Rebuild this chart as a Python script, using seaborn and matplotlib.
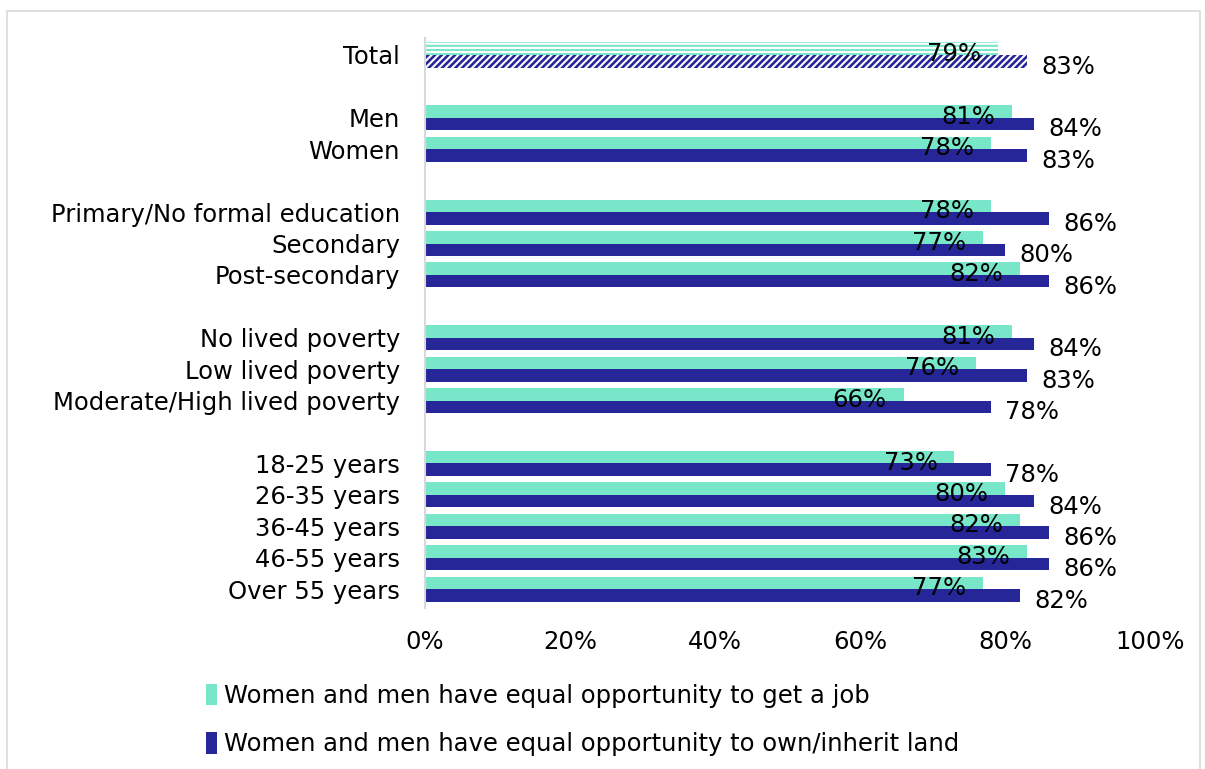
import matplotlib
matplotlib.use("Agg")
import matplotlib.pyplot as plt
import seaborn as sns
import pandas as pd
from matplotlib.patches import Rectangle
from matplotlib.ticker import PercentFormatter

categories = ["Total", "Men", "Women", "Primary/No formal education", "Secondary",
              "Post-secondary", "No lived poverty", "Low lived poverty",
              "Moderate/High lived poverty", "18-25 years", "26-35 years",
              "36-45 years", "46-55 years", "Over 55 years"]
job = [79, 81, 78, 78, 77, 82, 81, 76, 66, 73, 80, 82, 83, 77]
land = [83, 84, 83, 86, 80, 86, 84, 83, 78, 78, 84, 86, 86, 82]
series_names = ["Women and men have equal opportunity to get a job",
                "Women and men have equal opportunity to own/inherit land"]
order = ["Total", "_g1", "Men", "Women", "_g2", "Primary/No formal education",
         "Secondary", "Post-secondary", "_g3", "No lived poverty",
         "Low lived poverty", "Moderate/High lived poverty", "_g4",
         "18-25 years", "26-35 years", "36-45 years", "46-55 years", "Over 55 years"]

teal = "#78E6C8"
navy = "#262699"

df = pd.DataFrame({
    "cat": categories * 2,
    "val": job + land,
    "series": [series_names[0]] * len(categories) + [series_names[1]] * len(categories),
})

sns.set_theme(style="white")
plt.rcParams["font.family"] = ["DejaVu Sans"]
plt.rcParams["hatch.linewidth"] = 1.5
plt.rcParams["text.color"] = "black"
FS = 17.5

fig = plt.figure(figsize=(12.05, 7.69), dpi=100)
ax = fig.add_axes([425 / 1205, 1 - 608 / 769, 725 / 1205, 570 / 769])

sns.barplot(data=df, y="cat", x="val", hue="series", order=order,
            hue_order=series_names, palette=[teal, navy], orient="h",
            width=0.8, dodge=True, ax=ax, legend=True, saturation=1,
            linewidth=0)

for ci, cont in enumerate(ax.containers):
    for p in cont:
        p.set_linewidth(0)
        yc = p.get_y() + p.get_height() / 2
        if abs(yc - (-0.2 if ci == 0 else 0.2)) < 0.05:
            p.set_hatch("----" if ci == 0 else "/////")
            p.set_edgecolor("white")

ax.set_xlim(0, 100)
ax.set_ylim(17.6, -0.54)
ax.xaxis.set_major_formatter(PercentFormatter(decimals=0))
ax.set_xticks([0, 20, 40, 60, 80, 100])
labels = ["" if o.startswith("_g") else o for o in order]
ax.set_yticks(range(len(order)))
ax.set_yticklabels(labels)
ax.tick_params(axis="both", length=0, labelsize=FS, colors="black")
ax.tick_params(axis="y", pad=18)
ax.tick_params(axis="x", pad=16)
ax.set_xlabel("")
ax.set_ylabel("")
for s in ["top", "right", "bottom"]:
    ax.spines[s].set_visible(False)
ax.spines["left"].set_color("#d9d9d9")
ax.spines["left"].set_linewidth(1.5)

for i, c in enumerate(categories):
    pos = order.index(c)
    ax.text(job[i] - 2.3, pos - 0.2 + 0.17, f"{job[i]}%", ha="right", va="center",
            fontsize=FS, color="black")
    ax.text(land[i] + 2.0, pos + 0.2 + 0.17, f"{land[i]}%", ha="left", va="center",
            fontsize=FS, color="black")

handles, _ = ax.get_legend_handles_labels()
for h in handles:
    h.set_linewidth(0)
leg = ax.legend(handles, series_names, loc="upper left",
                bbox_to_anchor=(196 / 1205, 1 - 674 / 769), bbox_transform=fig.transFigure,
                frameon=False, fontsize=FS, handlelength=0.45, handleheight=1.0,
                handletextpad=0.3, labelspacing=1.0, borderaxespad=0)
for t in leg.get_texts():
    t.set_color("black")

fig.patches.append(Rectangle((0.006, -0.01), 0.99, 0.996, transform=fig.transFigure,
                             fill=False, edgecolor="#d9d9d9", linewidth=1.2))

fig.savefig("out.png", dpi=100, facecolor="white")
